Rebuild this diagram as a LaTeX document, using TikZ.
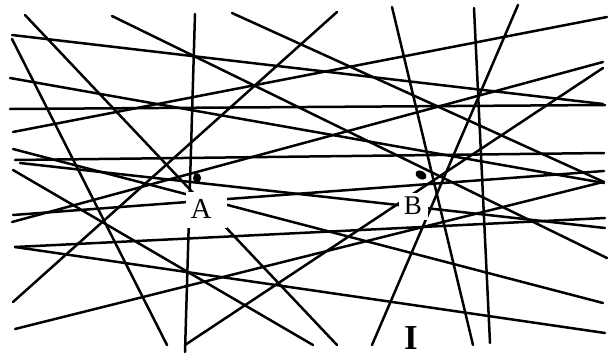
\documentclass[tikz,border=0pt]{standalone}
\usepackage{fontspec}
\setmainfont{Liberation Serif}
\begin{document}
\begin{tikzpicture}[x=1pt,y=-1pt,
  stroke/.style={line width=2.5pt,line cap=round,black},
  lbl/.style={inner sep=0pt,font=\fontsize{29}{29}\selectfont}]
\useasboundingbox (0,0) rectangle (614,356);
\fill[white] (0,0) rectangle (614,356);
% lines
\draw[stroke] (25,15) -- (337,345);
\draw[stroke] (112,16) -- (607,258);
\draw[stroke] (232,13) -- (604,182);
\draw[stroke] (337,12) -- (13,302);
\draw[stroke] (195,14) -- (185,352);
\draw[stroke] (185,345) -- (603,68);
\draw[stroke] (13,215) -- (604,171);
\draw[stroke] (13,149) -- (603,303);
\draw[stroke] (12,35) -- (603,104);
\draw[stroke] (12,39) -- (167,345);
\draw[stroke] (10,78) -- (604,183);
\draw[stroke] (10,109) -- (605,105);
\draw[stroke] (13,132) -- (607,17);
\draw[stroke] (15,160) -- (604,153);
\draw[stroke] (20,163) -- (605,228);
\draw[stroke] (13,170) -- (313,345);
\draw[stroke] (12,222) -- (603,62);
\draw[stroke] (15,247) -- (605,333);
\draw[stroke] (15,247) -- (605,218);
\draw[stroke] (15,329) -- (603,182);
\draw[stroke] (392,7) -- (473,345);
\draw[stroke] (474,8) -- (490,343);
\draw[stroke] (518,5) -- (372,345);
% label backgrounds
\fill[white] (186,192) rectangle (227,228);
\fill[white] (399,193) rectangle (428,220);
% dots
\fill (197,178) ellipse [x radius=4, y radius=5];
\fill[rotate around={-30:(421,175)}] (421,175) ellipse [x radius=6, y radius=4];
% labels
\node[lbl] (A) at (201,209) {A};
\node[lbl,font=\fontsize{27}{27}\selectfont] (B) at (413,206) {B};
\node[lbl,font=\fontsize{35}{35}\selectfont\bfseries] (I) at (411,338) {I};
\end{tikzpicture}
\end{document}
